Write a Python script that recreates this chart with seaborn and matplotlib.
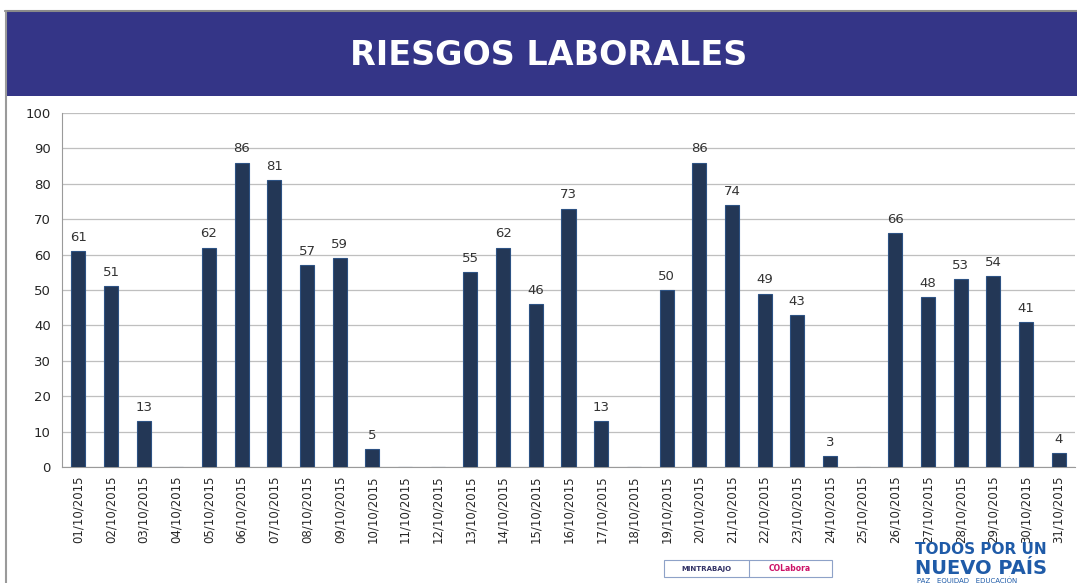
import numpy as np
import pandas as pd
import matplotlib
matplotlib.use("Agg")
import matplotlib.pyplot as plt
from matplotlib.patches import Rectangle
from matplotlib.ticker import FixedLocator
import seaborn as sns

# Daily counts, October 2015
dates = [f"{d:02d}/10/2015" for d in range(1, 32)]
counts = [61, 51, 13, 0, 62, 86, 81, 57, 59, 5, 0, 0, 55, 62, 46, 73,
          13, 0, 50, 86, 74, 49, 43, 3, 0, 66, 48, 53, 54, 41, 4]
title = "RIESGOS LABORALES"

df = pd.DataFrame({"fecha": dates, "casos": counts})

sns.set_style("white")
plt.rcParams["font.family"] = ["DejaVu Sans"]

fig = plt.figure(figsize=(10.77, 5.83), dpi=100)

# banner
fig.patches.append(Rectangle((5 / 1077, 0.835), 1.0, 0.144, transform=fig.transFigure,
                             facecolor="#343587", edgecolor="none", zorder=0))
fig.lines.append(plt.Line2D([5 / 1077, 1], [0.981, 0.981], transform=fig.transFigure,
                            color="#8a8a8a", lw=1.5))
fig.lines.append(plt.Line2D([6 / 1077, 6 / 1077], [0, 0.981], transform=fig.transFigure,
                            color="#9a9a9a", lw=1.5))
fig.text(0.509, 0.905, title, ha="center", va="center", color="white",
         fontsize=24, fontweight="bold")

ax = fig.add_axes([62 / 1077, 116 / 583, 1013 / 1077, 354 / 583])
sns.barplot(data=df, x="fecha", y="casos", color="#1a355f", width=0.43,
            edgecolor="#2d5283", linewidth=0.8, ax=ax, zorder=3)

ax.set_ylim(0, 100)
ax.set_xlim(-0.5, len(dates) - 0.5)
ax.set_yticks(range(0, 101, 10))
ax.yaxis.grid(True, color="#bfbfbf", lw=0.9, zorder=0)
ax.set_axisbelow(True)
for s in ["top", "right"]:
    ax.spines[s].set_visible(False)
ax.spines["left"].set_color("#9a9a9a")
ax.spines["bottom"].set_color("#9a9a9a")
ax.set_xlabel("")
ax.set_ylabel("")
ax.tick_params(axis="y", length=4, color="#9a9a9a", labelsize=9.5, pad=4)
ax.tick_params(axis="x", which="major", length=0, labelsize=8.5, pad=6)
ax.set_xticks(range(len(dates)))
ax.set_xticklabels(dates, rotation=90)
ax.xaxis.set_minor_locator(FixedLocator(np.arange(-0.5, len(dates), 1.0)))
ax.tick_params(axis="x", which="minor", length=4, color="#9a9a9a")

for i, v in enumerate(counts):
    if v > 0:
        ax.text(i, v + 2, str(v), ha="center", va="bottom", fontsize=9.5, color="#333333")

# footer logos (text only)
fig.patches.append(Rectangle((664 / 1077, 6 / 583), 168 / 1077, 17 / 583,
                             transform=fig.transFigure, facecolor="white",
                             edgecolor="#8ea2c8", lw=0.8))
fig.lines.append(plt.Line2D([749 / 1077, 749 / 1077], [6 / 583, 23 / 583],
                            transform=fig.transFigure, color="#8ea2c8", lw=0.8))
fig.text(706 / 1077, 14.5 / 583, "MINTRABAJO", ha="center", va="center",
         fontsize=5, color="#333366", fontweight="bold")
fig.text(790 / 1077, 14.5 / 583, "COLabora", ha="center", va="center",
         fontsize=5.5, color="#cc1166", fontweight="bold")
fig.text(915 / 1077, 33 / 583, "TODOS POR UN", ha="left", va="center",
         fontsize=11, color="#1f5ba8", fontweight="bold")
fig.text(915 / 1077, 15 / 583, "NUEVO PAÍS", ha="left", va="center",
         fontsize=14, color="#1f5ba8", fontweight="bold")
fig.text(917 / 1077, 3 / 583, "PAZ   EQUIDAD   EDUCACIÓN", ha="left", va="center",
         fontsize=5, color="#1f5ba8")

fig.savefig("out.png", dpi=100)
